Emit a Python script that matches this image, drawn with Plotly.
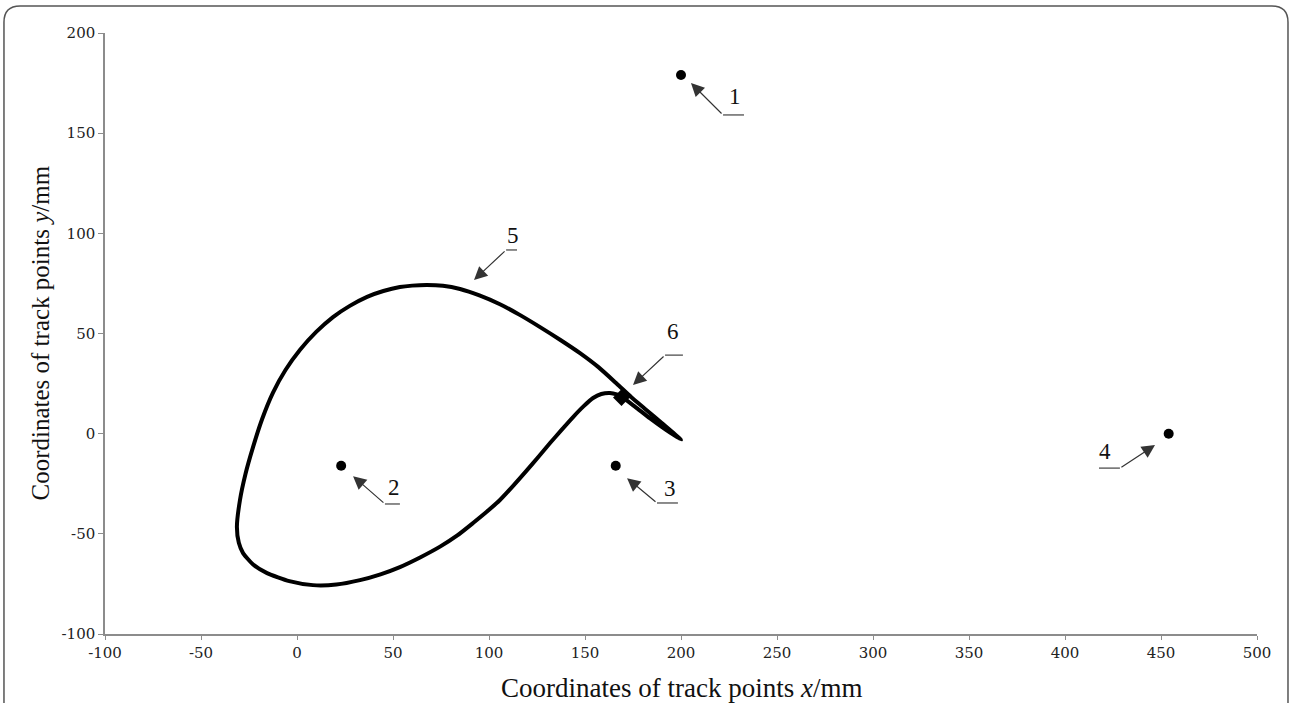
import plotly.graph_objects as go

# Trajectory (curve 5)
track_x = [200, 190, 181, 174, 166.7, 157, 147.4, 137, 126.6, 116, 105.7, 95, 84.9, 76, 67.7, 60,
           53.6, 45, 36.5, 27.5, 18.75, 10, 1.6, -6, -12.5, -18.2, -22.9, -26.8, -29.7, -31.3,
           -30.3, -28.1, -23, -15.6, -4, 8.3, 20.5, 32.8, 43.5, 53.6, 64.1, 74.5, 83.5, 91.7,
           98.8, 105.7, 112.8, 119.8, 125.9, 131.8, 137.8, 143.8, 149.2, 154.2, 158.5, 163,
           166.5, 169.3, 176, 183.9, 192, 200]
track_y = [-3, 5.3, 12.6, 18.3, 24.8, 33.2, 40.2, 46.9, 53.2, 59.3, 64.6, 69.0, 72.2, 73.8, 74.2, 73.9,
           73.2, 71.2, 68.3, 63.8, 58.2, 50.8, 41.9, 31.8, 20.5, 7.2, -6.7, -20, -33.1, -46.6,
           -54.5, -59.6, -65.2, -69.6, -73.6, -75.6, -75.3, -73.1, -70.2, -66.6, -61.8, -56.4, -50.8, -44.6,
           -39, -33.1, -25.8, -18.2, -11.4, -4.7, 1.9, 8.3, 13.6, 17.8, 19.8, 20.3,
           19.6, 18.3, 13.5, 7.6, 2, -3]

# Fixed points 1-4
pts_x = [200, 23, 166, 454]
pts_y = [179, -16, -16, 0]

# Point 6 (diamond)
p6_x = [169]
p6_y = [18]

# Callout labels: text, arrow tip, arrow tail, end of horizontal leader, label position
labels = ["1", "2", "3", "4", "5", "6"]
tip_x = [205.2, 29.2, 171.9, 446.9, 92.2, 175.0]
tip_y = [175.0, -21.2, -22.2, -5.7, 76.7, 24.3]
tail_x = [221.9, 45.8, 187.5, 428.6, 108.9, 191.7]
tail_y = [159.1, -35.1, -34.6, -17.2, 91.7, 39.2]
lead_x = [232.8, 53.6, 198.4, 417.7, 114.6, 201.0]
lab_x = [228.1, 50.5, 194.3, 421.0, 112.5, 195.8]
lab_y = [168.5, -27.0, -27.5, -9.0, 99.0, 51.0]

x_ticks = list(range(-100, 501, 50))
y_ticks = list(range(-100, 201, 50))
x_title = "Coordinates of track points <i>x</i>/mm"
y_title = "Coordinates of track points <i>y</i>/mm"

fig = go.Figure()
fig.add_trace(go.Scatter(x=track_x, y=track_y, mode="lines",
                         line=dict(color="black", width=4, shape="spline", smoothing=0.6),
                         showlegend=False, hoverinfo="skip"))
fig.add_trace(go.Scatter(x=pts_x, y=pts_y, mode="markers",
                         marker=dict(color="black", size=10, symbol="circle"),
                         showlegend=False))
fig.add_trace(go.Scatter(x=p6_x, y=p6_y, mode="markers",
                         marker=dict(color="black", size=13, symbol="diamond"),
                         showlegend=False))

ann = []
shapes = []
serif = "Liberation Serif, Times New Roman, serif"
tickserif = "DejaVu Serif, serif"
for i, t in enumerate(labels):
    ann.append(dict(x=tip_x[i], y=tip_y[i], ax=tail_x[i], ay=tail_y[i], axref="x", ayref="y",
                    xref="x", yref="y", text="", showarrow=True, arrowhead=2, arrowsize=2.2,
                    arrowwidth=1.2, arrowcolor="#333333"))
    shapes.append(dict(type="line", xref="x", yref="y", x0=tail_x[i], y0=tail_y[i],
                       x1=lead_x[i], y1=tail_y[i], line=dict(color="#666666", width=1.5)))
    ann.append(dict(x=lab_x[i], y=lab_y[i], xref="x", yref="y", text=t, showarrow=False,
                    font=dict(family=serif, size=23, color="#111111")))

# axis titles
ann.append(dict(x=0.5, y=-0.0899, xref="paper", yref="paper", text=x_title, showarrow=False,
                xanchor="center", yanchor="middle",
                font=dict(family=serif, size=27, color="#111111")))
ann.append(dict(x=-0.0564, y=0.5, xref="paper", yref="paper", text=y_title, showarrow=False,
                xanchor="center", yanchor="middle", textangle=-90,
                font=dict(family=serif, size=25, color="#111111")))

# rounded frame around the whole image
x0, x1, yt, yb = -0.0877, 1.0269, 1.0449, -0.14
rx, ry = 0.014, 0.027
path = (f"M {x0},{yb} L {x0},{yt-ry} Q {x0},{yt} {x0+rx},{yt} "
        f"L {x1-rx},{yt} Q {x1},{yt} {x1},{yt-ry} L {x1},{yb}")
shapes.append(dict(type="path", xref="paper", yref="paper", path=path,
                   line=dict(color="#555555", width=1.5)))

fig.update_layout(
    width=1290, height=703, autosize=False,
    margin=dict(l=105, r=33, t=33, b=69),
    plot_bgcolor="white", paper_bgcolor="white",
    annotations=ann, shapes=shapes,
    xaxis=dict(range=[-100, 500], tickvals=x_ticks, ticktext=[str(v) for v in x_ticks],
               showgrid=False, zeroline=False, automargin=False,
               showline=True, linecolor="#8c8c8c", linewidth=1.5, ticks="outside", ticklen=4,
               tickcolor="#8c8c8c", tickfont=dict(family=tickserif, size=15, color="#222222")),
    yaxis=dict(range=[-100, 200], tickvals=y_ticks, ticktext=[str(v) for v in y_ticks],
               showgrid=False, zeroline=False, automargin=False,
               showline=True, linecolor="#8c8c8c", linewidth=1.5, ticks="outside", ticklen=5,
               tickcolor="#8c8c8c", tickfont=dict(family=tickserif, size=15, color="#222222")),
)
fig.write_html("out.html", config={"displayModeBar": False},
               post_script="document.body.style.margin='0';")
